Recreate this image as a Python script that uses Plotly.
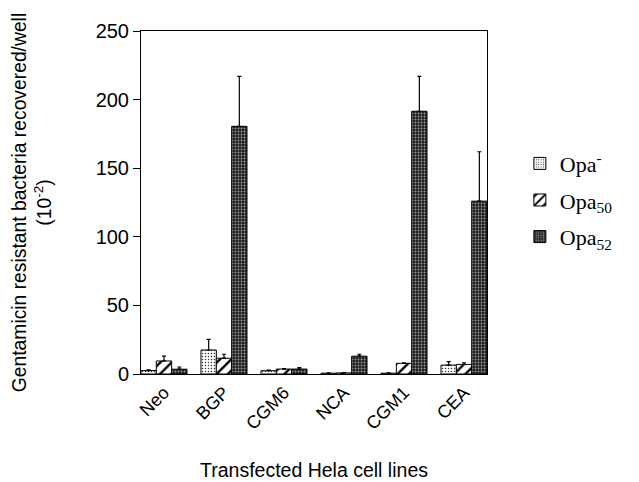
import plotly.graph_objects as go

categories = ["Neo", "BGP", "CGM6", "NCA", "CGM1", "CEA"]
opa_minus = [2.5, 17.5, 2.4, 0.6, 0.6, 6.5]
opa_minus_err = [0.5, 7.8, 0.4, 0.2, 0.2, 2.5]
opa50 = [9.5, 11.5, 3.6, 0.8, 7.8, 7.0]
opa50_err = [3.5, 2.9, 0.4, 0.2, 0.4, 1.2]
opa52 = [3.5, 180.5, 3.6, 13.0, 191.5, 126.0]
opa52_err = [1.6, 36.5, 1.0, 1.4, 25.5, 36.0]

series = [
    ("Opa<sup>-</sup>", opa_minus, opa_minus_err,
     dict(shape=".", bgcolor="white", fgcolor="#333333", size=3, solidity=0.2, fillmode="replace")),
    ("Opa<sub>50</sub>", opa50, opa50_err,
     dict(shape="/", bgcolor="white", fgcolor="black", size=8, solidity=0.3, fillmode="replace")),
    ("Opa<sub>52</sub>", opa52, opa52_err,
     dict(shape=".", bgcolor="#1e1e1e", fgcolor="#9a9a9a", size=3, solidity=0.3, fillmode="replace")),
]

fig = go.Figure()
for i, (name, vals, errs, pat) in enumerate(series):
    fig.add_trace(go.Bar(
        x=categories, y=vals, name=name, legendgroup=f"g{i}",
        marker=dict(color="white", line=dict(color="black", width=1), pattern=pat),
        error_y=dict(type="data", array=errs, arrayminus=[0]*len(errs), symmetric=False,
                     color="black", thickness=1.2, width=2),
    ))

fig.update_layout(
    width=631, height=474,
    margin=dict(l=133, r=152, t=23, b=108),
    paper_bgcolor="white", plot_bgcolor="white",
    barmode="group", bargap=0.233, bargroupgap=0,
    font=dict(family="Liberation Sans, Arial, sans-serif", color="black", size=18),
    legend=dict(x=1.095, y=0.507, xanchor="left", yanchor="middle",
                font=dict(family="Liberation Serif, Times New Roman, serif", size=22),
                tracegroupgap=5, bgcolor="rgba(0,0,0,0)"),
    showlegend=True,
)
fig.update_xaxes(
    range=[-0.383, 5.383], tickangle=-45, showline=True, linecolor="black", linewidth=1,
    mirror=True, ticks="", showgrid=False, automargin=False,
    title=dict(text="Transfected Hela cell lines", standoff=30, font=dict(size=19.5)),
    tickfont=dict(size=18),
)
fig.update_yaxes(
    range=[0, 250], tickvals=[0, 50, 100, 150, 200, 250], ticks="outside", ticklen=7,
    tickcolor="black", showline=True, linecolor="black", linewidth=1, mirror=True,
    showgrid=False, zeroline=False, tickfont=dict(size=20), automargin=False,
    title=dict(text="Gentamicin resistant bacteria recovered/well<br>(10<sup>-2</sup>)",
               font=dict(size=19.3), standoff=38),
)

fig.write_html("out.html")
